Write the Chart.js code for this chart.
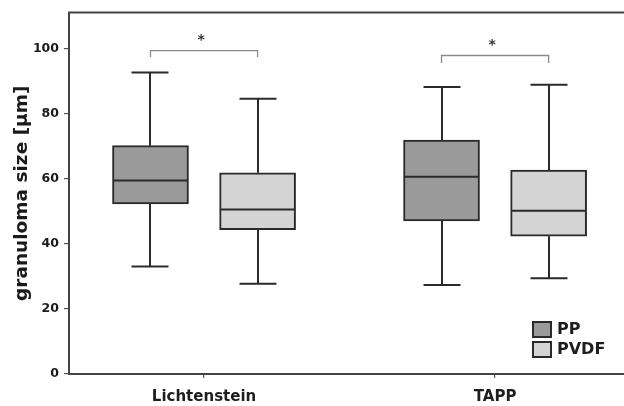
<!DOCTYPE html>
<html>
<head>
<meta charset="utf-8">
<script src="https://cdn.jsdelivr.net/npm/chart.js@4.4.1/dist/chart.umd.min.js"></script>
<style>
  html, body { margin: 0; padding: 0; background: #ffffff; }
  #wrap { width: 624px; height: 406px; position: relative; }
</style>
</head>
<body>
<div id="wrap"><canvas id="c"></canvas></div>
<script>
// ---- data ----
const categories = ['Lichtenstein', 'TAPP'];
const seriesNames = ['PP', 'PVDF'];

const ppMin    = [33.0, 27.3];
const ppQ1     = [52.2, 47.0];
const ppMedian = [59.4, 60.6];
const ppQ3     = [70.1, 71.8];
const ppMax    = [92.6, 88.1];

const pvdfMin    = [27.7, 29.4];
const pvdfQ1     = [44.3, 42.3];
const pvdfMedian = [50.5, 50.1];
const pvdfQ3     = [61.8, 62.6];
const pvdfMax    = [84.5, 88.8];

const yTicks = [0, 20, 40, 60, 80, 100];

// significance brackets (value units)
const sigLabels = ['*', '*'];
const bracketTop = [99.3, 97.8];
const bracketEnd = [97.3, 95.5];

// ---- styling / layout ----
const FONT = "'DejaVu Sans', sans-serif";
const INK = '#2a2a2a';
const colors = ['#9a9a9a', '#d4d4d4'];
const boxOffset = 0.184;   // x-units from category centre
const boxWidth = 76;       // px
const capWidth = 37;       // px

const series = [
  { name: seriesNames[0], min: ppMin, q1: ppQ1, med: ppMedian, q3: ppQ3, max: ppMax, off: -boxOffset, color: colors[0] },
  { name: seriesNames[1], min: pvdfMin, q1: pvdfQ1, med: pvdfMedian, q3: pvdfQ3, max: pvdfMax, off: boxOffset, color: colors[1] }
];

const datasets = series.map(s => ({
  label: s.name,
  data: categories.map((c, i) => ({ x: i + 1 + s.off, y: [s.q1[i], s.q3[i]] })),
  backgroundColor: s.color,
  borderColor: INK,
  borderWidth: 2,
  borderSkipped: false,
  barThickness: boxWidth,
  grouped: false
}));

const boxPlugin = {
  id: 'boxExtras',
  afterDatasetsDraw(chart) {
    const ctx = chart.ctx;
    const xs = chart.scales.x, ys = chart.scales.y;
    const ca = chart.chartArea;
    ctx.save();
    // top frame line
    ctx.strokeStyle = '#444';
    ctx.lineWidth = 2;
    ctx.beginPath();
    ctx.moveTo(ca.left - 1, ca.top);
    ctx.lineTo(ca.right + 2, ca.top);
    ctx.stroke();

    ctx.strokeStyle = INK;
    ctx.lineWidth = 2;
    series.forEach(s => {
      categories.forEach((c, i) => {
        const cx = Math.round(xs.getPixelForValue(i + 1 + s.off));
        const yMax = ys.getPixelForValue(s.max[i]);
        const yQ3 = ys.getPixelForValue(s.q3[i]);
        const yQ1 = ys.getPixelForValue(s.q1[i]);
        const yMin = ys.getPixelForValue(s.min[i]);
        const yMed = ys.getPixelForValue(s.med[i]);
        ctx.beginPath();
        ctx.moveTo(cx, yMax); ctx.lineTo(cx, yQ3);
        ctx.moveTo(cx, yQ1); ctx.lineTo(cx, yMin);
        ctx.moveTo(cx - capWidth / 2, yMax); ctx.lineTo(cx + capWidth / 2, yMax);
        ctx.moveTo(cx - capWidth / 2, yMin); ctx.lineTo(cx + capWidth / 2, yMin);
        ctx.moveTo(cx - boxWidth / 2 + 1, yMed); ctx.lineTo(cx + boxWidth / 2 - 1, yMed);
        ctx.stroke();
      });
    });

    // significance brackets
    categories.forEach((c, i) => {
      const x1 = xs.getPixelForValue(i + 1 + series[0].off);
      const x2 = xs.getPixelForValue(i + 1 + series[1].off);
      const yt = ys.getPixelForValue(bracketTop[i]);
      const ye = ys.getPixelForValue(bracketEnd[i]);
      ctx.strokeStyle = '#8a8a8a';
      ctx.lineWidth = 1.3;
      ctx.beginPath();
      ctx.moveTo(x1, ye); ctx.lineTo(x1, yt); ctx.lineTo(x2, yt); ctx.lineTo(x2, ye);
      ctx.stroke();
      ctx.fillStyle = '#333';
      ctx.font = 'bold 14px ' + FONT;
      ctx.textAlign = 'center';
      ctx.textBaseline = 'alphabetic';
      ctx.fillText(sigLabels[i], (x1 + x2) / 2 - 3, yt - 6.5);
    });

    // legend
    const lx = ca.right - 91;
    let ly = ca.bottom - 52;
    series.forEach(s => {
      ctx.fillStyle = s.color;
      ctx.strokeStyle = INK;
      ctx.lineWidth = 2;
      ctx.fillRect(lx, ly, 18, 15);
      ctx.strokeRect(lx, ly, 18, 15);
      ctx.fillStyle = '#1e1e1e';
      ctx.font = 'bold 16px ' + FONT;
      ctx.textAlign = 'left';
      ctx.textBaseline = 'middle';
      ctx.fillText(s.name, lx + 24, ly + 8);
      ly += 20;
    });
    ctx.restore();
  }
};

new Chart(document.getElementById('c'), {
  type: 'bar',
  data: { datasets },
  options: {
    responsive: true,
    maintainAspectRatio: false,
    animation: false,
    devicePixelRatio: 1,
    layout: { padding: { top: 10, right: 0, left: 0, bottom: 0 } },
    plugins: { legend: { display: false }, tooltip: { enabled: false } },
    scales: {
      x: {
        type: 'linear',
        offset: false,
        min: 0.536,
        max: 2.443,
        afterBuildTicks(scale) { scale.ticks = categories.map((c, i) => ({ value: i + 1 })); },
        afterFit(scale) { scale.height = 32; },
        ticks: {
          callback: (v) => categories[Math.round(v) - 1] || '',
          font: { family: FONT, size: 15, weight: 'bold' },
          color: '#1e1e1e',
          padding: 10,
          maxRotation: 0,
          autoSkip: false
        },
        grid: { offset: false, drawOnChartArea: false, drawTicks: true, tickLength: 4, color: '#555', lineWidth: 1.2 },
        border: { display: true, color: '#444', width: 2 }
      },
      y: {
        min: 0,
        max: 111,
        afterBuildTicks(scale) { scale.ticks = yTicks.map(v => ({ value: v })); },
        afterFit(scale) { scale.width = 69; },
        ticks: {
          font: { family: FONT, size: 12.5, weight: 'bold' },
          color: '#1a1a1a',
          padding: 5
        },
        grid: { drawOnChartArea: false, drawTicks: true, tickLength: 5, color: '#555', lineWidth: 1.2 },
        border: { display: true, color: '#444', width: 2 },
        title: {
          display: true,
          text: 'granuloma size [µm]',
          font: { family: FONT, size: 18.5, weight: 'bold' },
          color: '#1a1a1a',
          padding: { top: 11, bottom: 0 }
        }
      }
    }
  },
  plugins: [boxPlugin]
});
</script>
</body>
</html>
